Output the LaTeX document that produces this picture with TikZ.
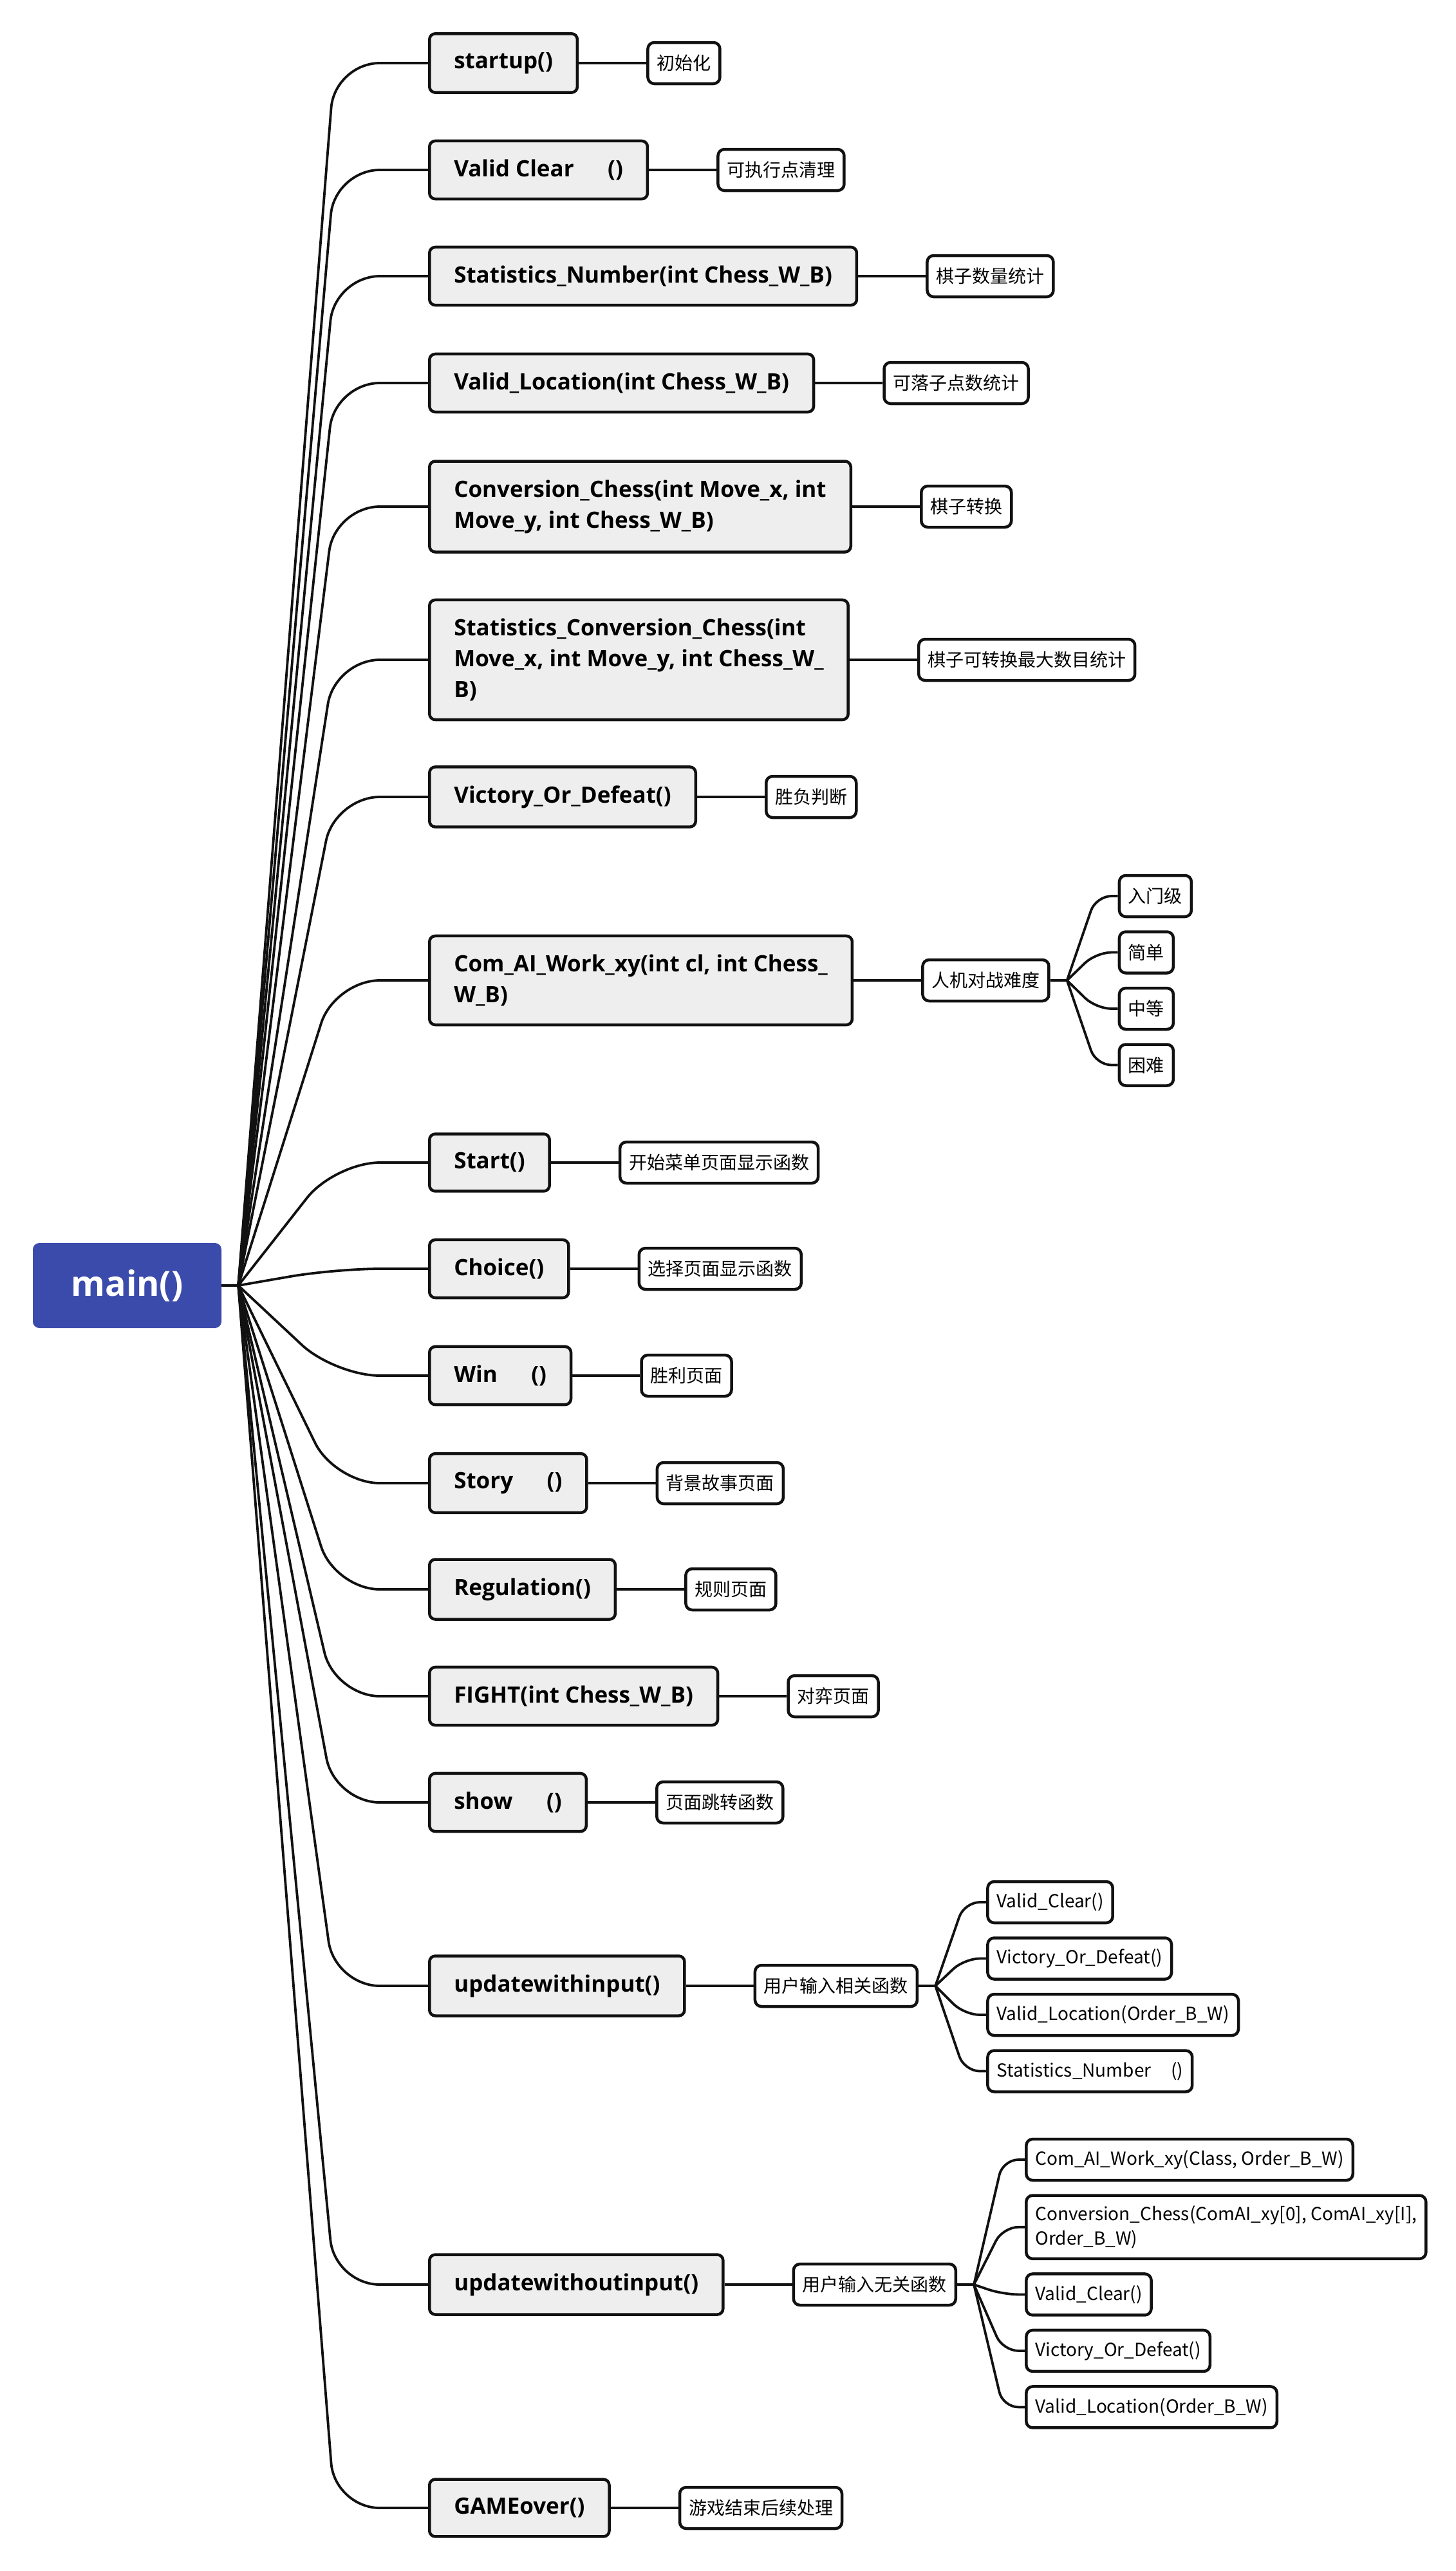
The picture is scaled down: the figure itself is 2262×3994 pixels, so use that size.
\documentclass[tikz,border=0pt]{standalone}
\usepackage{fontspec}
\setmainfont{Open Sans}
\newfontfamily\cjkfont{Noto Sans CJK SC}
\usetikzlibrary{positioning,calc}
\definecolor{rootblue}{RGB}{59,75,171}
\definecolor{funcgrey}{RGB}{238,238,238}
\definecolor{ink}{RGB}{17,17,17}
\tikzset{
  root/.style={fill=rootblue, rounded corners=10pt, text=white, minimum width=293pt, minimum height=132pt, inner sep=0pt, font=\fontsize{54}{64}\selectfont\bfseries},
  func/.style={draw=ink, fill=funcgrey, line width=4.5pt, rounded corners=9pt, align=left, anchor=west, inner xsep=38pt, inner ysep=29pt, font=\fontsize{35}{48}\selectfont\bfseries},
  note/.style={draw=ink, fill=white, line width=4.5pt, rounded corners=10pt, align=left, inner xsep=14pt, inner ysep=10pt, minimum height=64pt, font=\cjkfont\fontsize{28}{38}\selectfont},
  link/.style={draw=ink, line width=3.8pt},
  branch/.style={link, rounded corners=70pt},
  twig/.style={link, rounded corners=24pt}
}

\begin{document}
\begin{tikzpicture}[x=1pt, y=-1pt, node distance=105pt]
\useasboundingbox (0,0) rectangle (2262,3994);
\node[root] (main) at (197.5,1997) {main()};

% functions called from main
\node[func] (startup) at (665,98) {startup()};
\node[func] (clear) at (665,264) {Valid Clear\hspace{1.5em}()};
\node[func] (count) at (665,429) {Statistics\_Number(int Chess\_W\_B)};
\node[func] (locate) at (665,595) {Valid\_Location(int Chess\_W\_B)};
\node[func] (convert) at (665,787) {Conversion\_Chess(int Move\_x, int\\Move\_y, int Chess\_W\_B)};
\node[func] (maxconv) at (665,1025) {Statistics\_Conversion\_Chess(int\\Move\_x, int Move\_y, int Chess\_W\_\\B)};
\node[func] (judge) at (665,1238) {Victory\_Or\_Defeat()};
\node[func] (comai) at (665,1523) {Com\_AI\_Work\_xy(int cl, int Chess\_\\W\_B)};
\node[func] (start) at (665,1806) {Start()};
\node[func] (choice) at (665,1971) {Choice()};
\node[func] (win) at (665,2137) {Win\hspace{1.5em}()};
\node[func] (story) at (665,2304) {Story\hspace{1.5em}()};
\node[func] (rule) at (665,2469) {Regulation()};
\node[func] (fight) at (665,2635) {FIGHT(int Chess\_W\_B)};
\node[func] (show) at (665,2800) {show\hspace{1.5em}()};
\node[func] (input) at (665,3085) {updatewithinput()};
\node[func] (noinput) at (665,3549) {updatewithoutinput()};
\node[func] (over) at (665,3896) {GAMEover()};

% what each one does
\node[note, right=of startup] (initn) {初始化};
\node[note, right=of clear] (cleann) {可执行点清理};
\node[note, right=of count] (countn) {棋子数量统计};
\node[note, right=of locate] (locn) {可落子点数统计};
\node[note, right=of convert] (convn) {棋子转换};
\node[note, right=of maxconv] (maxn) {棋子可转换最大数目统计};
\node[note, right=of judge] (judgen) {胜负判断};
\node[note, right=of comai] (level) {人机对战难度};
\node[note, right=of start] (startn) {开始菜单页面显示函数};
\node[note, right=of choice] (choicen) {选择页面显示函数};
\node[note, right=of win] (winn) {胜利页面};
\node[note, right=of story] (storyn) {背景故事页面};
\node[note, right=of rule] (rulen) {规则页面};
\node[note, right=of fight] (fightn) {对弈页面};
\node[note, right=of show] (shown) {页面跳转函数};
\node[note, right=of input] (inrel) {用户输入相关函数};
\node[note, right=of noinput] (inirr) {用户输入无关函数};
\node[note, right=of over] (overn) {游戏结束后续处理};

% difficulty levels
\node[note, anchor=west] (lv1) at ($(level.east)+(105,-131)$) {入门级};
\node[note, below=19pt of lv1.south west, anchor=north west] (lv2) {简单};
\node[note, below=19pt of lv2.south west, anchor=north west] (lv3) {中等};
\node[note, below=19pt of lv3.south west, anchor=north west] (lv4) {困难};

% input related
\node[note, anchor=west] (in1) at ($(inrel.east)+(105,-130)$) {Valid\_Clear()};
\node[note, below=19pt of in1.south west, anchor=north west] (in2) {Victory\_Or\_Defeat()};
\node[note, below=19pt of in2.south west, anchor=north west] (in3) {Valid\_Location(Order\_B\_W)};
\node[note, below=19pt of in3.south west, anchor=north west] (in4) {Statistics\_Number\hspace{1.1em}()};

% input unrelated
\node[note, anchor=west] (ir1) at ($(inirr.east)+(105,-194)$) {Com\_AI\_Work\_xy(Class, Order\_B\_W)};
\node[note, inner ysep=16pt, below=19pt of ir1.south west, anchor=north west] (ir2) {Conversion\_Chess(ComAI\_xy[0], ComAI\_xy[I],\\Order\_B\_W)};
\node[note, below=19pt of ir2.south west, anchor=north west] (ir3) {Valid\_Clear()};
\node[note, below=19pt of ir3.south west, anchor=north west] (ir4) {Victory\_Or\_Defeat()};
\node[note, below=19pt of ir4.south west, anchor=north west] (ir5) {Valid\_Location(Order\_B\_W)};

% branches
\coordinate (hub) at ($(main.east)+(26,0)$);
\coordinate (bend) at (520,0);
\draw[link] (main.east) -- (hub);
\foreach \n in {startup,clear,count,locate,convert,maxconv,judge,comai,start,choice,win,story,rule,fight,show,input,noinput,over}
  \draw[branch] (hub) -- (bend |- \n.west) -- (\n.west);

\foreach \a/\b in {startup/initn,clear/cleann,count/countn,locate/locn,convert/convn,maxconv/maxn,judge/judgen,comai/level,start/startn,choice/choicen,win/winn,story/storyn,rule/rulen,fight/fightn,show/shown,input/inrel,noinput/inirr,over/overn}
  \draw[link] (\a) -- (\b);

% sub branches
\foreach \p/\kids in {level/{lv1,lv2,lv3,lv4},inrel/{in1,in2,in3,in4},inirr/{ir1,ir2,ir3,ir4,ir5}} {
  \coordinate (subhub) at ($(\p.east)+(26,0)$);
  \coordinate (subbend) at ($(\p.east)+(71,0)$);
  \draw[link] (\p.east) -- (subhub);
  \foreach \k in \kids
    \draw[twig] (subhub) -- (subbend |- \k.west) -- (\k.west);
}
\end{tikzpicture}
\end{document}
